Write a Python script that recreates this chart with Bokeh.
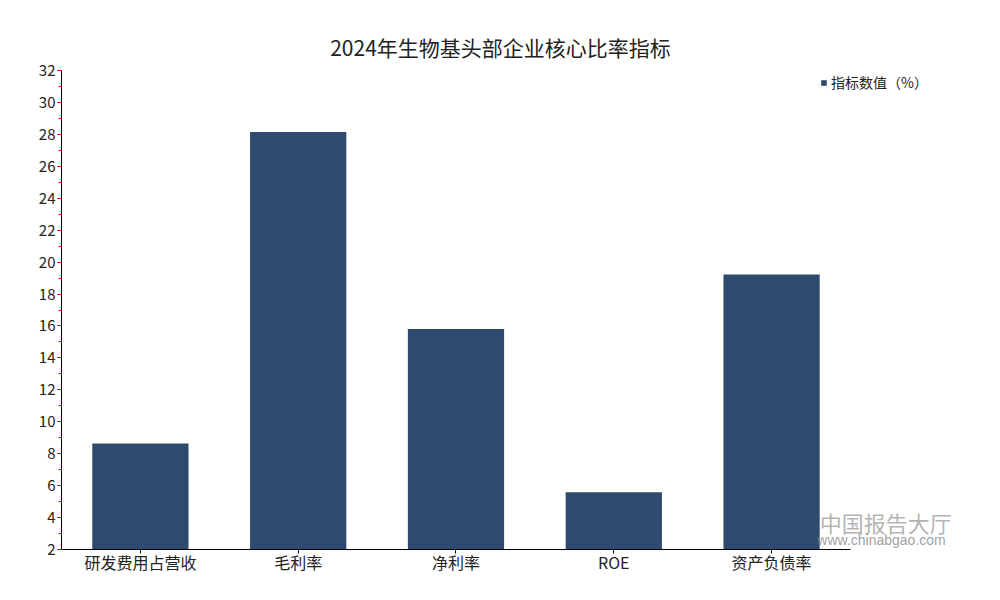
from bokeh.plotting import figure
from bokeh.models import Range1d, FixedTicker, SingleIntervalTicker, Label, Legend, LegendItem
from bokeh.embed import file_html
from bokeh.resources import INLINE

categories = ["研发费用占营收", "毛利率", "净利率", "ROE", "资产负债率"]
values = [8.64, 28.15, 15.81, 5.58, 19.22]
series_name = "指标数值（%）"
title_text = "2024年生物基头部企业核心比率指标"
y_min, y_max, y_step = 2, 32, 2

FONT = "Noto Sans CJK SC"
BAR = "#2E4A6E"
TXT = "#222222"

n = len(categories)
xs = [i + 0.5 for i in range(n)]

# frame: left 61, bottom 549; 5 categories span 789px, 30 units span 479px
p = figure(width=984, height=584, x_range=Range1d(0, 5.824), y_range=Range1d(y_min, 35.76),
           output_backend="svg", toolbar_location=None,
           min_border_left=61, min_border_right=4, min_border_top=10, min_border_bottom=35)
p.outline_line_color = None
p.xgrid.grid_line_color = None
p.ygrid.grid_line_color = None

r = p.vbar(x=xs, top=values, bottom=0, width=0.61, fill_color=BAR, line_color=None)

yax = p.yaxis[0]
yax.ticker = SingleIntervalTicker(interval=y_step, num_minor_ticks=2)
yax.bounds = (y_min, y_max)
yax.axis_line_color = "black"
yax.major_tick_line_color = "black"
yax.major_tick_out = 4
yax.major_tick_in = 0
yax.minor_tick_line_color = "red"
yax.minor_tick_out = 3
yax.minor_tick_in = 0
yax.major_label_text_font = FONT
yax.major_label_text_font_size = "15px"
yax.major_label_text_color = TXT
yax.major_label_standoff = 2

xax = p.xaxis[0]
xax.ticker = FixedTicker(ticks=xs)
xax.major_label_overrides = {x: c for x, c in zip(xs, categories)}
xax.bounds = (0, n)
xax.axis_line_color = "black"
xax.major_tick_line_color = "black"
xax.major_tick_out = 4
xax.major_tick_in = 0
xax.minor_tick_line_color = None
xax.major_label_text_font = FONT
xax.major_label_text_font_size = "16px"
xax.major_label_text_color = TXT
xax.major_label_standoff = -4

legend = Legend(items=[LegendItem(label=series_name, renderers=[r])],
                location=(759, 457), padding=0, margin=0, spacing=0,
                glyph_width=7, glyph_height=7, label_standoff=4,
                border_line_color=None, background_fill_alpha=0,
                label_text_font=FONT, label_text_font_size="14px",
                label_text_color=TXT)
p.add_layout(legend, "center")

p.add_layout(Label(x=2.782, y=33.5, text=title_text, text_align="center",
                   text_baseline="middle", text_font=FONT, text_font_size="21px",
                   text_color=TXT))

# watermark
p.add_layout(Label(x=4.805, y=3.75, text="中国报告大厅", text_align="left",
                   text_baseline="middle", text_font=FONT, text_font_size="22px",
                   text_color="#9a9a9a", text_alpha=0.75))
p.add_layout(Label(x=4.79, y=2.62, text="www.chinabgao.com", text_align="left",
                   text_baseline="middle", text_font="Liberation Sans", text_font_size="14px",
                   text_color="#808080", text_alpha=0.75))

open("out.html", "w").write(file_html(p, INLINE))
